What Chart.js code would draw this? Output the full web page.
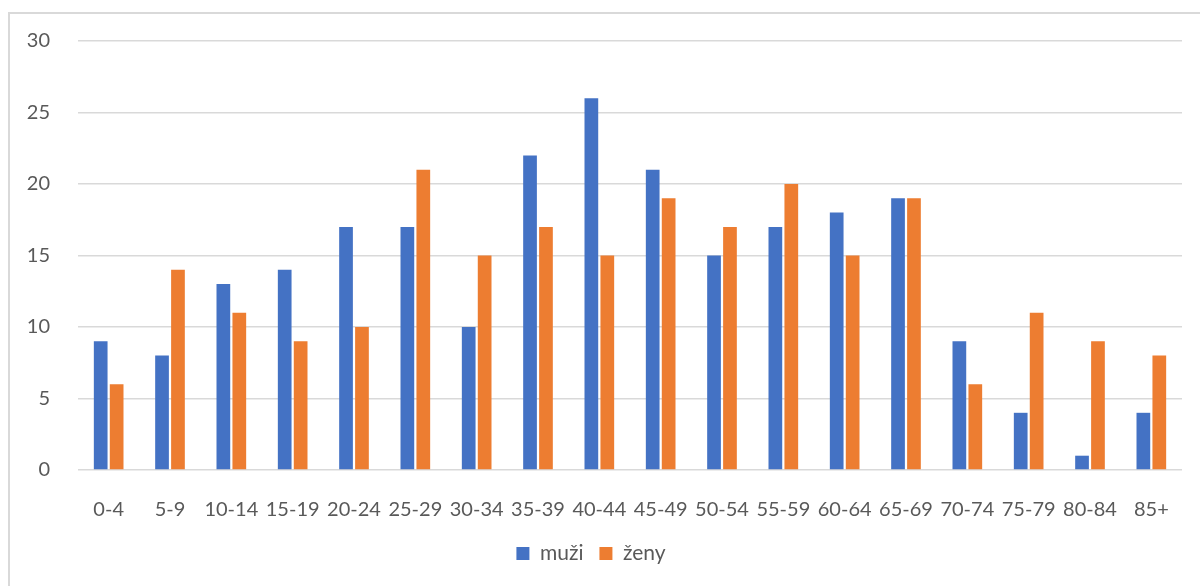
<!DOCTYPE html>
<html lang="cs">
<head>
    <meta charset="UTF-8">
    <title>muži / ženy podle věku</title>
    <script src="https://cdn.jsdelivr.net/npm/chart.js"></script>
    <style>
        body {
            margin: 0;
            padding: 0;
            background: #fff;
            overflow: hidden;
        }
        .frame {
            position: absolute;
            left: 8px;
            top: 12px;
            width: 1300px;
            height: 700px;
            border: 2px solid #d9d9d9;
        }
        .chartBox {
            position: absolute;
            left: 0;
            top: 0;
            width: 1200px;
            height: 586px;
        }
    </style>
</head>
<body>
    <div class="frame"></div>
    <div class="chartBox">
        <canvas id="myChart"></canvas>
    </div>
    <script>
        // age groups and counts
        const ageGroups = ['0-4', '5-9', '10-14', '15-19', '20-24', '25-29', '30-34', '35-39', '40-44',
                           '45-49', '50-54', '55-59', '60-64', '65-69', '70-74', '75-79', '80-84', '85+'];
        const muzi = [9, 8, 13, 14, 17, 17, 10, 22, 26, 21, 15, 17, 18, 19, 9, 4, 1, 4];
        const zeny = [6, 14, 11, 9, 10, 21, 15, 17, 15, 19, 17, 20, 15, 19, 6, 11, 9, 8];
        const yTicks = [0, 5, 10, 15, 20, 25, 30];

        const textColor = '#595959';
        const fontFamily = 'Lato, "Open Sans", sans-serif';

        const ctx = document.getElementById('myChart');

        const myChart = new Chart(ctx, {
            type: 'bar',
            data: {
                labels: ageGroups,
                datasets: [{
                    label: 'muži',
                    data: muzi,
                    backgroundColor: '#4472c4',
                    categoryPercentage: 0.52,
                    barPercentage: 0.86
                }, {
                    label: 'ženy',
                    data: zeny,
                    backgroundColor: '#ed7d31',
                    categoryPercentage: 0.52,
                    barPercentage: 0.86
                }]
            },
            options: {
                responsive: true,
                maintainAspectRatio: false,
                animation: false,
                layout: {
                    padding: { top: 41, right: 18, bottom: 12, left: 0 }
                },
                plugins: {
                    tooltip: { enabled: false },
                    legend: {
                        position: 'bottom',
                        labels: {
                            boxWidth: 13,
                            boxHeight: 13,
                            padding: 16,
                            color: textColor,
                            font: { family: fontFamily, size: 21 }
                        }
                    }
                },
                scales: {
                    x: {
                        grid: { display: false },
                        border: { display: false },
                        ticks: {
                            color: textColor,
                            padding: 20,
                            maxRotation: 0,
                            font: { family: fontFamily, size: 20 }
                        },
                        afterFit: (scale) => { scale.height = 57; }
                    },
                    y: {
                        min: 0,
                        max: 30,
                        afterBuildTicks: (scale) => {
                            scale.ticks = yTicks.map(v => ({ value: v }));
                        },
                        grid: {
                            color: '#d9d9d9',
                            lineWidth: 1.5,
                            drawTicks: false
                        },
                        border: { display: false },
                        ticks: {
                            color: textColor,
                            padding: 28,
                            font: { family: fontFamily, size: 20 }
                        },
                        afterFit: (scale) => { scale.width = 78; }
                    }
                }
            }
        });
    </script>
</body>
</html>
